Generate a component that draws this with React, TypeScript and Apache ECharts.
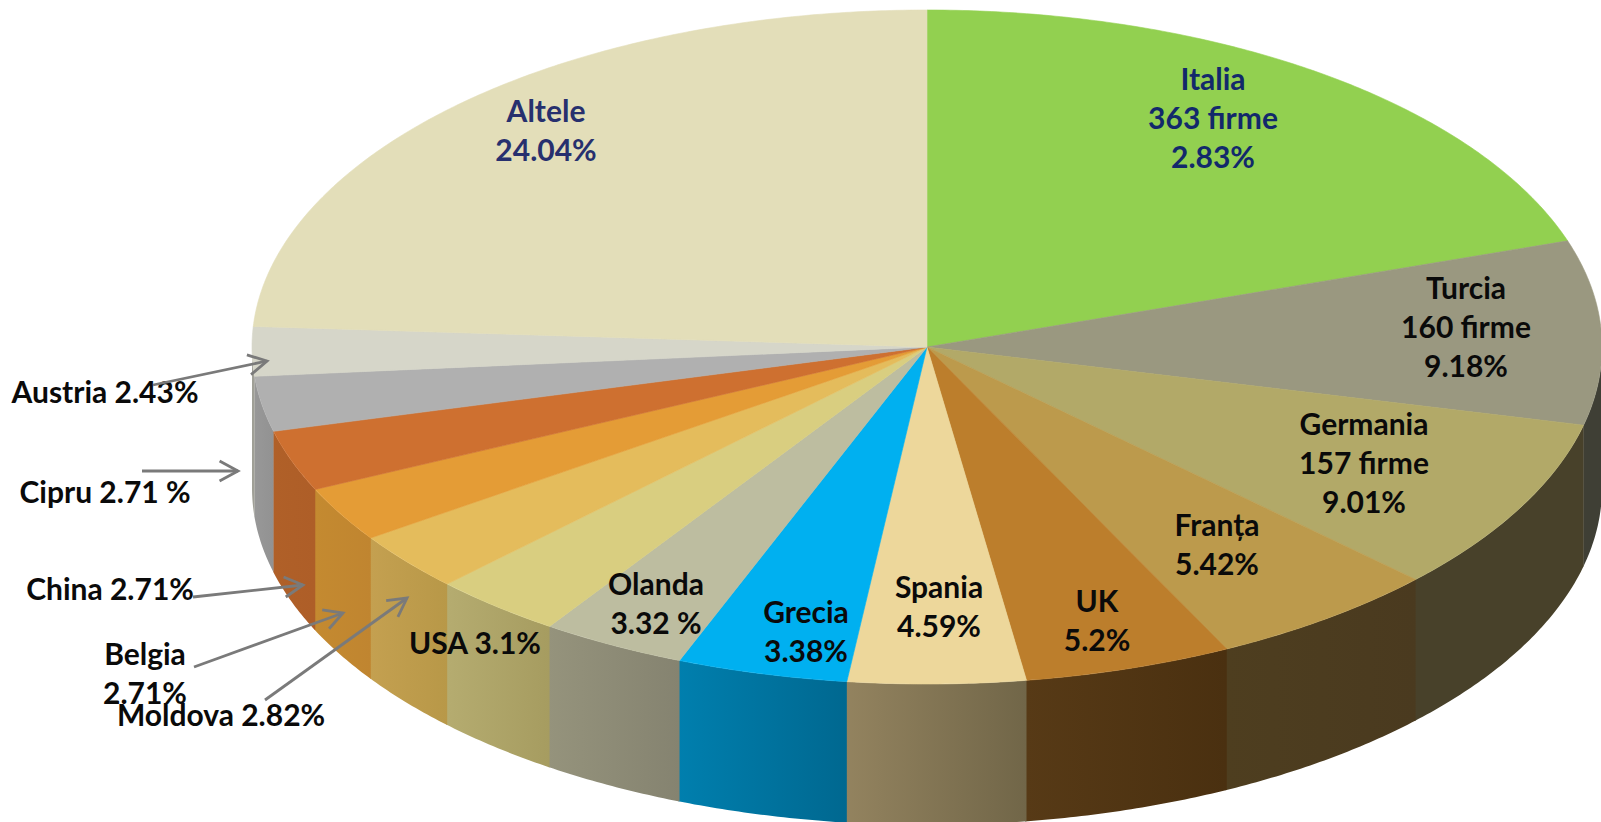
import React, { useEffect, useRef } from "react";
import * as echarts from "echarts";

// Slice order runs clockwise from 12 o'clock.
const countries = ["Italia","Turcia","Germania","Franța","UK","Spania","Grecia","Olanda","USA","Moldova","Belgia","China","Cipru","Austria","Altele"];
// Share of the circle each slice occupies (the printed labels do not always agree with the drawn slices).
const sliceShares = [19.9,8.83,8.39,5.56,4.97,4.25,4.08,3.47,3.14,2.83,2.64,2.92,2.64,2.36,24.03];
const topColors = ["#92D050","#9A9880","#B2A968","#BC9A4C","#BC7E2C","#EDD79B","#00B0F0","#BDBDA0","#D9CE80","#E4BC5C","#E49C36","#CE7030","#B0B0B0","#D6D6C9","#E3DEB9"];
// Wall gradient, left edge to right edge.
const wallLeft  = ["#6D9C3C","#3F3F35","#48412A","#4E3E1F","#573A16","#93835F","#007FAE","#95937C","#B5AC70","#C4A050","#C48A30","#B06028","#989898","#A0A097","#AAA688"];
const wallRight = ["#6D9C3C","#3F3F35","#48412A","#4A3A1F","#4A3010","#716648","#006890","#858370","#A69C60","#B89848","#C08530","#AE5E28","#929292","#A0A097","#AAA688"];

const sliceLabels = [
  ["Italia","363 firme","2.83%"],["Turcia","160 firme","9.18%"],["Germania","157 firme","9.01%"],
  ["Franța","5.42%"],["UK","5.2%"],["Spania","4.59%"],["Grecia","3.38%"],["Olanda","3.32 %"],
  ["USA 3.1%"],["Moldova 2.82%"],["Belgia","2.71%"],["China 2.71%"],["Cipru 2.71 %"],["Austria 2.43%"],["Altele","24.04%"],
];
const labelColors = ["#12296B","#0A0A0A","#0A0A0A","#0A0A0A","#0A0A0A","#0A0A0A","#0A0A0A","#0A0A0A","#0A0A0A","#0A0A0A","#0A0A0A","#0A0A0A","#0A0A0A","#0A0A0A","#27306E"];

// Layout, kept apart from the data: centre x and first-line y of each label.
const labelAnchors = [[1213,78],[1466,287],[1364,423],[1217,524],[1097,600],[939,586],[806,611],[656,583],[475,642],[221,714],[145,653],[110,588],[105,491],[105,391],[546,110]];
const LINE_GAP = 39;
const CX = 927, CY = 347, RX = 675, RY = 337, DEPTH = 141;

// Callout arrows: tail x, tail y, tip x, tip y.
const arrows = [[153,385,267,361],[142,471,238,471],[193,597,303,585],[194,667,343,613],[265,700,407,598]];

const total = sliceShares.reduce((a, b) => a + b, 0);
const bounds: number[] = [0];
sliceShares.forEach((v) => bounds.push(bounds[bounds.length - 1] + (v / total) * 360));

const rim = (deg: number, drop = 0): number[] => {
  const t = (deg * Math.PI) / 180;
  return [CX + RX * Math.sin(t), CY - RY * Math.cos(t) + drop];
};
const arc = (a: number, b: number, drop = 0) => {
  const n = Math.max(4, Math.ceil(Math.abs(b - a) * 2));
  const out: number[][] = [];
  for (let i = 0; i <= n; i++) out.push(rim(a + ((b - a) * i) / n, drop));
  return out;
};

const renderWall = (params: any) => {
  const i = params.dataIndex;
  const a = Math.max(bounds[i], 90), b = Math.min(bounds[i + 1] + 0.12, 270);
  if (a >= b) return { type: "group", children: [] };
  return {
    type: "polygon",
    shape: { points: [...arc(a, b), ...arc(b, a, DEPTH)] },
    style: {
      fill: new echarts.graphic.LinearGradient(0, 0, 1, 0, [
        { offset: 0, color: wallLeft[i] },
        { offset: 1, color: wallRight[i] },
      ]),
    },
  };
};

const renderTop = (params: any) => {
  const i = params.dataIndex;
  return {
    type: "polygon",
    shape: { points: [[CX, CY], ...arc(bounds[i], bounds[i + 1])] },
    style: { fill: topColors[i], stroke: topColors[i], lineWidth: 0.6 },
  };
};

const buildGraphics = () => {
  const els: any[] = [];
  sliceLabels.forEach((lines, i) => {
    lines.forEach((line, k) => {
      els.push({
        type: "text",
        x: labelAnchors[i][0],
        y: labelAnchors[i][1] + k * LINE_GAP,
        z: 10,
        style: {
          text: line,
          fill: labelColors[i],
          font: 'bold 30px Lato, "Noto Sans", sans-serif',
          textAlign: "center",
          textVerticalAlign: "middle",
        },
      });
    });
  });
  arrows.forEach(([x0, y0, x1, y1]) => {
    const ang = Math.atan2(y1 - y0, x1 - x0);
    const wing = (d: number) => [x1 - 21 * Math.cos(ang + d), y1 - 21 * Math.sin(ang + d)];
    els.push({ type: "polyline", z: 11, shape: { points: [[x0, y0], [x1, y1]] }, style: { stroke: "#7A7A7A", lineWidth: 2.8, fill: "none" } });
    els.push({ type: "polyline", z: 11, shape: { points: [wing(0.5), [x1, y1], wing(-0.5)] }, style: { stroke: "#7A7A7A", lineWidth: 2.8, fill: "none" } });
  });
  return els;
};

export default function App() {
  const ref = useRef<HTMLDivElement>(null);
  useEffect(() => {
    const chart = echarts.init(ref.current!, undefined, { renderer: "svg" });
    const data = countries.map((name, i) => ({ name, value: sliceShares[i] }));
    chart.setOption({
      animation: false,
      backgroundColor: "#FFFFFF",
      series: [
        { type: "custom", coordinateSystem: "none", renderItem: renderWall, data, z: 1, silent: true },
        { type: "custom", coordinateSystem: "none", renderItem: renderTop, data, z: 2, silent: true },
      ],
      graphic: buildGraphics(),
    });
    return () => chart.dispose();
  }, []);
  return <div ref={ref} style={{ position: "absolute", left: 0, top: 0, width: 1601, height: 822 }} />;
}
